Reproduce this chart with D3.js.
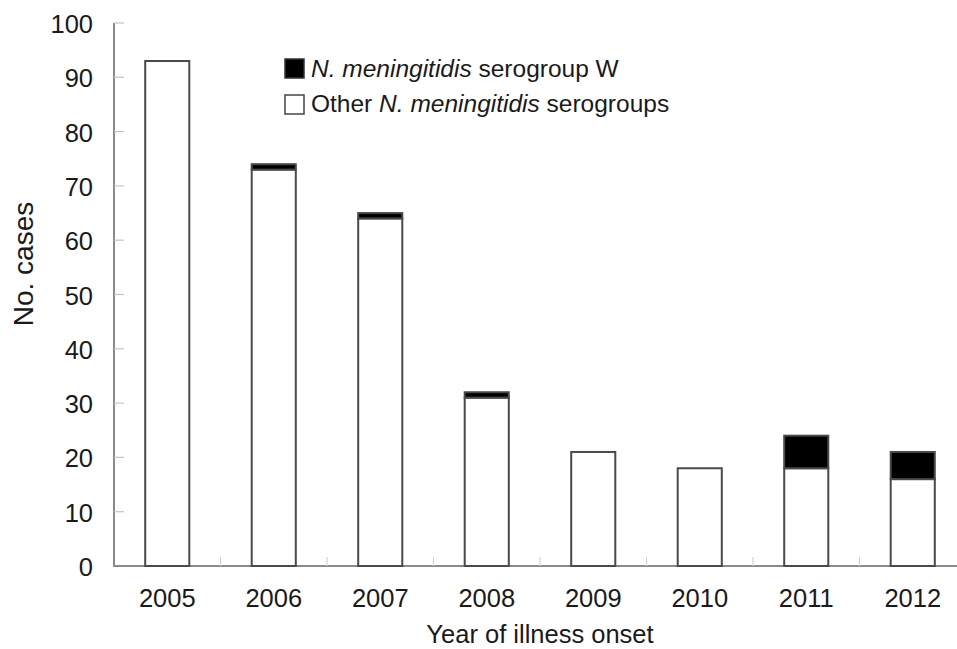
<!DOCTYPE html>
<html>
<head>
<meta charset="utf-8">
<script src="https://cdn.jsdelivr.net/npm/d3@7"></script>
<style>
  body { margin: 0; background: #fff; }
  svg { display: block; font-family: "Liberation Sans", Arial, sans-serif; }
</style>
</head>
<body>
<svg id="chart" width="957" height="649"></svg>
<script>
const years = ["2005", "2006", "2007", "2008", "2009", "2010", "2011", "2012"];
const otherSerogroups = [93, 73, 64, 31, 21, 18, 18, 16];
const serogroupW = [0, 1, 1, 1, 0, 0, 6, 5];
const yTicks = [0, 10, 20, 30, 40, 50, 60, 70, 80, 90, 100];
const legendLabels = ["serogroup W", "Other"];

const svg = d3.select("#chart");
const x0 = 114, y0 = 566, y100 = 23;

const x = d3.scaleBand().domain(years).range([x0, 966]).paddingInner(0.586).paddingOuter(0.293);
const y = d3.scaleLinear().domain([0, 100]).range([y0, y100]);

const rows = years.map((yr, i) => ({ year: yr, other: otherSerogroups[i], w: serogroupW[i] }));
const stacked = d3.stack().keys(["other", "w"])(rows);

// y axis
svg.append("line").attr("x1", x0).attr("x2", x0).attr("y1", y(100)).attr("y2", y0)
  .attr("stroke", "#8a8a8a").attr("stroke-width", 2);
svg.selectAll(".ytick").data(yTicks.slice(1)).join("line")
  .attr("x1", x0).attr("x2", x0 + 10).attr("y1", d => y(d)).attr("y2", d => y(d))
  .attr("stroke", "#c4c4c4").attr("stroke-width", 1.2);
svg.selectAll(".ylab").data(yTicks).join("text")
  .attr("x", 93).attr("y", d => y(d) + 10).attr("text-anchor", "end")
  .attr("font-size", 25.5).attr("fill", "#1a1a1a").text(d => d);

// x axis
svg.append("line").attr("x1", x0 - 1).attr("x2", 957).attr("y1", y0).attr("y2", y0)
  .attr("stroke", "#8a8a8a").attr("stroke-width", 2);
svg.selectAll(".xtick").data(years.slice(1)).join("line")
  .attr("x1", d => x(d) - x.step() * x.paddingInner() / 2)
  .attr("x2", d => x(d) - x.step() * x.paddingInner() / 2)
  .attr("y1", y0).attr("y2", y0 - 9)
  .attr("stroke", "#d4d4d4").attr("stroke-width", 1.2);
svg.selectAll(".xlab").data(years).join("text")
  .attr("x", d => x(d) + x.bandwidth() / 2).attr("y", 607).attr("text-anchor", "middle")
  .attr("font-size", 25.5).attr("fill", "#1a1a1a").text(d => d);

// bars
const fills = { other: "#ffffff", w: "#000000" };
stacked.forEach(layer => {
  svg.append("g").selectAll("rect").data(layer.filter(d => d[1] > d[0])).join("rect")
    .attr("x", d => x(d.data.year)).attr("width", x.bandwidth())
    .attr("y", d => y(d[1])).attr("height", d => y(d[0]) - y(d[1]))
    .attr("fill", fills[layer.key]).attr("stroke", "#4a4a4a").attr("stroke-width", 2);
});

// axis titles
svg.append("text").attr("x", 540).attr("y", 643).attr("text-anchor", "middle")
  .attr("font-size", 25.5).attr("fill", "#1a1a1a").text("Year of illness onset");
svg.append("text").attr("transform", "translate(33,264) rotate(-90)").attr("text-anchor", "middle")
  .attr("font-size", 28).attr("fill", "#1a1a1a").text("No. cases");

// legend
const lg = svg.append("g");
lg.append("rect").attr("x", 285).attr("y", 59).attr("width", 19).attr("height", 19)
  .attr("fill", "#000").attr("stroke", "#333").attr("stroke-width", 1.5);
lg.append("rect").attr("x", 285).attr("y", 95).attr("width", 19).attr("height", 19)
  .attr("fill", "#fff").attr("stroke", "#444").attr("stroke-width", 1.5);
const t1 = lg.append("text").attr("x", 311).attr("y", 77).attr("font-size", 24.5).attr("fill", "#1a1a1a");
t1.append("tspan").attr("font-style", "italic").text("N. meningitidis");
t1.append("tspan").text(" " + legendLabels[0]);
const t2 = lg.append("text").attr("x", 311).attr("y", 112).attr("font-size", 24.5).attr("fill", "#1a1a1a");
t2.append("tspan").text(legendLabels[1] + " ");
t2.append("tspan").attr("font-style", "italic").text("N. meningitidis");
t2.append("tspan").text(" serogroups");
</script>
</body>
</html>
